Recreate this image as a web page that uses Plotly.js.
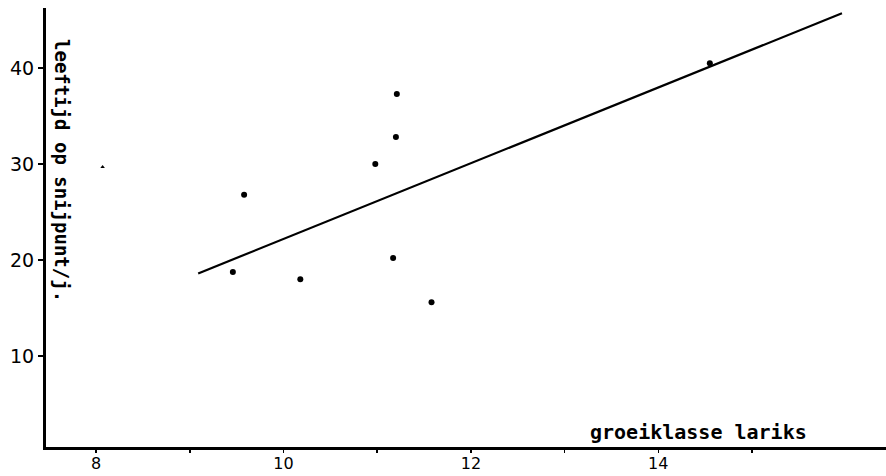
<!DOCTYPE html>
<html>
<head>
<meta charset="utf-8">
<script src="https://cdn.plot.ly/plotly-3.0.1.min.js"></script>
<style>html,body{margin:0;padding:0;background:#fff;}#chart{width:886px;height:476px;}</style>
</head>
<body>
<div id="chart"></div>
<script>
// data
const groeiklasse = [9.58, 9.46, 10.18, 10.98, 11.20, 11.21, 11.17, 11.58, 14.55];
const leeftijd    = [26.8, 18.75, 18.0, 30.0, 32.8, 37.3, 20.2, 15.6, 40.5];
const strayX = [8.07];
const strayY = [29.7];
const fitX = [9.09, 15.96];
const fitY = [18.6, 45.7];
const xTickVals = [8, 9, 10, 11, 12, 13, 14, 15];
const xTickText = ['8', '', '10', '', '12', '', '14', ''];
const yTickVals = [10, 20, 30, 40];
const yTickText = ['10', '20', '30', '40'];
const xTitle = 'groeiklasse lariks';
const yTitle = 'leeftijd op snijpunt/j.';

const traces = [
  {x: fitX, y: fitY, mode: 'lines', line: {color: '#000', width: 2.2}, hoverinfo: 'skip'},
  {x: groeiklasse, y: leeftijd, mode: 'markers', marker: {color: '#000', size: 6}},
  {x: strayX, y: strayY, mode: 'markers', marker: {color: '#000', size: 4, symbol: 'triangle-up'}}
];

const layout = {
  width: 886, height: 476,
  margin: {l: 46, r: 0, t: 8, b: 29},
  paper_bgcolor: '#fff', plot_bgcolor: '#fff',
  showlegend: false,
  font: {family: 'DejaVu Sans', color: '#000'},
  xaxis: {
    range: [7.466, 16.43], showgrid: false, zeroline: false,
    showline: true, linecolor: '#000', linewidth: 3,
    tickmode: 'array', tickvals: xTickVals, ticktext: xTickText,
    ticks: 'outside', ticklen: 3, tickwidth: 1.5, tickcolor: '#000',
    ticklabelstandoff: -3,
    tickfont: {family: 'DejaVu Sans', size: 16, color: '#000'}
  },
  yaxis: {
    range: [0.52, 46.25], showgrid: false, zeroline: false,
    showline: true, linecolor: '#000', linewidth: 3,
    tickmode: 'array', tickvals: yTickVals, ticktext: yTickText,
    ticks: 'outside', ticklen: 5, tickwidth: 1.5, tickcolor: '#000',
    tickfont: {family: 'DejaVu Sans', size: 19, color: '#000'}
  },
  annotations: [
    {text: xTitle, xref: 'paper', yref: 'paper', x: (698 - 46) / 840, y: (447 - 432) / 439,
     xanchor: 'center', yanchor: 'middle', showarrow: false,
     font: {family: 'DejaVu Sans Mono', size: 20, weight: 'bold', color: '#000'}},
    {text: yTitle, xref: 'paper', yref: 'paper', x: (62 - 46) / 840, y: (447 - 170) / 439,
     xanchor: 'center', yanchor: 'middle', showarrow: false, textangle: 90,
     font: {family: 'DejaVu Sans Mono', size: 19, weight: 'bold', color: '#000'}}
  ]
};

Plotly.newPlot('chart', traces, layout, {displayModeBar: false, staticPlot: true});
</script>
</body>
</html>
